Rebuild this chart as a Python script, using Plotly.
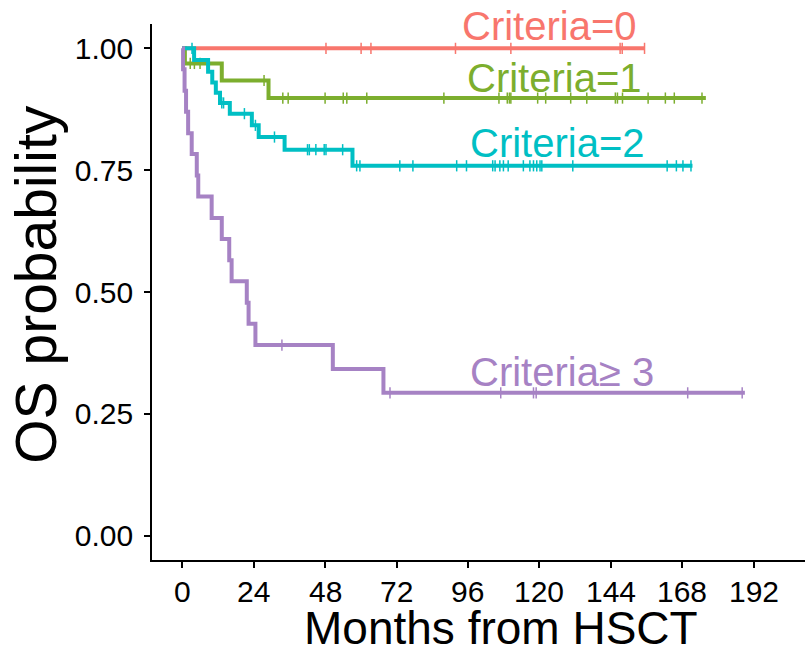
import plotly.graph_objects as go

# ---- data -------------------------------------------------------------
x_ticks = [0, 24, 48, 72, 96, 120, 144, 168, 192]
y_ticks = [0.0, 0.25, 0.50, 0.75, 1.00]
y_tick_text = ["0.00", "0.25", "0.50", "0.75", "1.00"]

groups = ["Criteria=0", "Criteria=1", "Criteria=2", "Criteria\u2265 3"]

# Criteria=0
c0_event_t = []
c0_surv = []
c0_end = 155.3
c0_censor = [48.3, 60.1, 63.4, 91.8, 110.4, 147.1, 147.8, 155.3]

# Criteria=1
c1_event_t = [0.9, 13.3, 29.0]
c1_surv = [0.969, 0.934, 0.898]
c1_end = 175.9
c1_censor = [2.7, 4.1, 6.0, 27.5, 33.8, 35.6, 48.0, 54.1, 55.3, 62.0, 87.9,
             106.4, 109.2, 109.9, 110.4, 119.4, 122.1, 130.5, 135.9, 145.5,
             146.2, 147.9, 156.5, 162.3, 165.3, 174.6]

# Criteria=2
c2_event_t = [4.0, 8.7, 10.1, 11.3, 12.7, 16.0, 23.4, 25.7, 34.4, 57.2]
c2_surv = [0.976, 0.952, 0.930, 0.909, 0.888, 0.866, 0.842, 0.818, 0.792, 0.759]
c2_end = 171.4
c2_censor = [3.3, 13.3, 13.9, 20.9, 24.6, 31.0, 42.1, 42.7, 44.9, 47.7, 48.3,
             53.9, 58.6, 59.7, 73.1, 77.5, 92.2, 95.5, 104.3, 105.1, 106.7,
             107.9, 109.5, 114.6, 116.8, 118.0, 119.1, 120.2, 120.8, 131.2,
             162.9, 166.0, 168.2, 170.9]

# Criteria>=3
c3_event_t = [0.3, 0.8, 1.3, 2.0, 3.2, 4.9, 5.4, 9.9, 13.3, 15.8, 16.6,
              21.7, 22.3, 24.6, 50.6, 67.6]
c3_surv = [0.957, 0.913, 0.870, 0.826, 0.783, 0.739, 0.696, 0.652, 0.609,
           0.565, 0.522, 0.478, 0.435, 0.391, 0.342, 0.293]
c3_end = 189.0
c3_censor = [33.5, 69.8, 107.0, 118.0, 118.9, 169.8, 188.1]

colors = ["#F8766D", "#7CAE2E", "#00BFC4", "#A682C4"]

# label positions (months, probability)
label_x = [123.5, 125.0, 126.0, 127.5]
label_y = [1.045, 0.940, 0.805, 0.335]

series = [
    (c0_event_t, c0_surv, c0_end, c0_censor),
    (c1_event_t, c1_surv, c1_end, c1_censor),
    (c2_event_t, c2_surv, c2_end, c2_censor),
    (c3_event_t, c3_surv, c3_end, c3_censor),
]


def surv_at(t, ev_t, ev_s):
    s = 1.0
    for et, es in zip(ev_t, ev_s):
        if et <= t:
            s = es
    return s


FONT = "Liberation Sans, Arial, sans-serif"

fig = go.Figure()
for name, col, (ev_t, ev_s, end, cens) in zip(groups, colors, series):
    xs = [0.0] + list(ev_t) + [end]
    ys = [1.0] + list(ev_s) + [ev_s[-1] if ev_s else 1.0]
    fig.add_trace(go.Scatter(
        x=xs, y=ys, mode="lines", line=dict(color=col, width=4, shape="hv"),
        name=name, showlegend=False, hoverinfo="skip"))
    fig.add_trace(go.Scatter(
        x=cens, y=[surv_at(t, ev_t, ev_s) for t in cens], mode="markers",
        marker=dict(symbol="line-ns-open", size=8, color=col,
                    line=dict(color=col, width=1.5)),
        showlegend=False, hoverinfo="skip"))

for name, col, lx, ly in zip(groups, colors, label_x, label_y):
    fig.add_annotation(x=lx, y=ly, xref="x", yref="y", text=name,
                       showarrow=False, font=dict(family=FONT, size=40, color=col))

# x tick labels, placed just under the tick marks
for t in x_ticks:
    fig.add_annotation(x=t, y=-0.058, xref="x", yref="paper", text=str(t),
                       showarrow=False, xanchor="center", yanchor="middle",
                       font=dict(family=FONT, size=30, color="black"))

# axis titles
fig.add_annotation(x=0.534, y=-0.127, xref="paper", yref="paper",
                   text="Months from HSCT", showarrow=False,
                   xanchor="center", yanchor="middle",
                   font=dict(family=FONT, size=46, color="black"))
fig.add_annotation(x=-0.178, y=0.515, xref="paper", yref="paper",
                   text="OS probability", showarrow=False, textangle=-90,
                   xanchor="center", yanchor="middle",
                   font=dict(family=FONT, size=57, color="black"))

axis_common = dict(showgrid=False, zeroline=False, showline=True,
                   linecolor="black", linewidth=1.6, ticks="outside",
                   ticklen=6, tickwidth=1.6, tickcolor="black",
                   tickfont=dict(family=FONT, size=30, color="black"))

fig.update_xaxes(range=[-10.14, 209.2], tickvals=x_ticks,
                 showticklabels=False, **axis_common)
fig.update_yaxes(range=[-0.05, 1.05], tickvals=y_ticks, ticktext=y_tick_text,
                 ticklabelstandoff=5, **axis_common)

fig.update_layout(width=805, height=651,
                  margin=dict(l=152, r=0, t=24, b=91),
                  plot_bgcolor="white", paper_bgcolor="white")

fig.write_html("out.html")
